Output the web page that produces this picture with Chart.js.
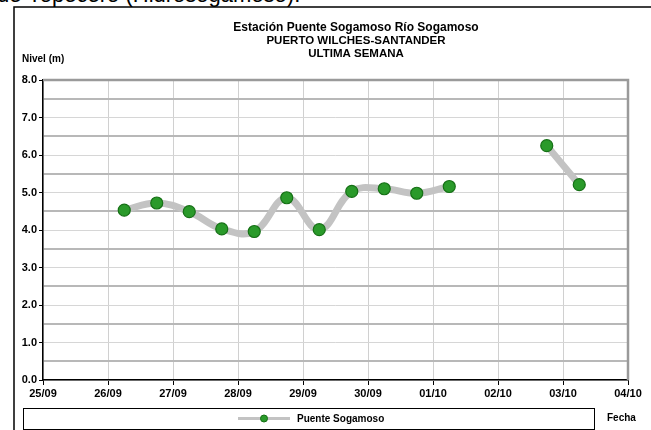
<!DOCTYPE html>
<html>
<head>
<meta charset="utf-8">
<script src="https://cdn.jsdelivr.net/npm/chart.js@4"></script>
<style>
  body { margin: 0; background: #fff; overflow: hidden; }
  #wrap { position: relative; width: 651px; height: 430px; }
  #top { position: absolute; left: -3px; top: -18px; font: 22px "Liberation Sans", Arial, sans-serif; color: #000; white-space: nowrap; }
  canvas { position: absolute; left: 0; top: 0; }
</style>
</head>
<body>
<div id="wrap">
  <div id="top">de Yopecero (Hidrosogamoso).</div>
  <canvas id="nivelChart" width="651" height="430"></canvas>
</div>
<script>
const dayLabels = ['25/09', '26/09', '27/09', '28/09', '29/09', '30/09', '01/10', '02/10', '03/10', '04/10'];
const sampleTimes = ['26/09 06', '26/09 18', '27/09 06', '27/09 18', '28/09 06', '28/09 18', '29/09 06',
    '29/09 18', '30/09 06', '30/09 18', '01/10 06', '01/10 18', '02/10 06', '02/10 18', '03/10 06'];
const levels = [4.53, 4.72, 4.49, 4.03, 3.96, 4.86, 4.01, 5.03, 5.10, 4.98, 5.16, null, null, 6.25, 5.21];
const titleLines = ['Estación Puente Sogamoso Río Sogamoso', 'PUERTO WILCHES-SANTANDER', 'ULTIMA SEMANA'];
const seriesName = 'Puente Sogamoso';

const FONT = '"Liberation Sans", Arial, sans-serif';

// day index + hour fraction
function toX(t) {
    const [d, h] = t.split(' ');
    return dayLabels.indexOf(d) + Number(h) / 24;
}

const points = sampleTimes.map((t, i) => ({ x: toX(t), y: levels[i] }));

const frame = {
    id: 'frame',
    beforeDatasetsDraw(chart) {
        const { ctx, chartArea: a } = chart;
        ctx.save();
        ctx.strokeStyle = '#9a9a9a';
        ctx.lineWidth = 2.5;
        ctx.beginPath();
        ctx.moveTo(a.left, a.top);
        ctx.lineTo(a.right, a.top);
        ctx.lineTo(a.right, a.bottom);
        ctx.stroke();
        ctx.restore();
    },
    afterDraw(chart) {
        const ctx = chart.ctx;
        ctx.save();
        // outer box
        ctx.strokeStyle = '#000';
        ctx.lineWidth = 1.5;
        ctx.beginPath();
        ctx.moveTo(14, 432);
        ctx.lineTo(14, 7);
        ctx.lineTo(655, 7);
        ctx.stroke();

        ctx.fillStyle = '#000';
        ctx.textAlign = 'center';
        ctx.textBaseline = 'alphabetic';
        titleLines.forEach((t, i) => {
            ctx.font = 'bold ' + (i === 0 ? 12 : 11.5) + 'px ' + FONT;
            ctx.fillText(t, 356, 31 + i * 13);
        });

        ctx.textAlign = 'left';
        ctx.font = 'bold 10px ' + FONT;
        ctx.fillText('Nivel (m)', 22, 62);
        ctx.fillText('Fecha', 607, 421);

        // legend
        ctx.lineWidth = 1;
        ctx.strokeStyle = '#000';
        ctx.strokeRect(23.5, 408.5, 571, 21);
        ctx.strokeStyle = '#c3c3c3';
        ctx.lineWidth = 3;
        ctx.beginPath();
        ctx.moveTo(238, 418.5);
        ctx.lineTo(290, 418.5);
        ctx.stroke();
        ctx.fillStyle = '#2a9a2a';
        ctx.strokeStyle = '#157015';
        ctx.lineWidth = 1;
        ctx.beginPath();
        ctx.arc(264, 418.5, 3.5, 0, Math.PI * 2);
        ctx.fill();
        ctx.stroke();
        ctx.fillStyle = '#000';
        ctx.fillText(seriesName, 297, 422);
        ctx.restore();
    }
};

new Chart(document.getElementById('nivelChart'), {
    type: 'line',
    data: {
        datasets: [{
            label: seriesName,
            data: points,
            borderColor: '#c3c3c3',
            borderWidth: 7,
            tension: 0.4,
            spanGaps: false,
            pointRadius: 6,
            pointBackgroundColor: '#2a9a2a',
            pointBorderColor: '#157015',
            pointBorderWidth: 1.2
        }]
    },
    options: {
        responsive: false,
        animation: false,
        layout: { padding: { top: 80, right: 23, bottom: 0, left: 0 } },
        plugins: {
            legend: { display: false },
            title: { display: false },
            tooltip: { enabled: false }
        },
        scales: {
            x: {
                type: 'linear',
                min: 0,
                max: dayLabels.length - 1,
                afterFit: s => { s.height = 50; },
                ticks: {
                    stepSize: 1,
                    padding: 2,
                    color: '#000',
                    font: { family: FONT, size: 11, weight: 'bold' },
                    maxRotation: 0,
                    autoSkip: false,
                    callback: v => dayLabels[v]
                },
                grid: { color: '#d0d0d0', lineWidth: 1, tickColor: '#000', tickLength: 5 },
                border: { color: '#000', width: 1.5 }
            },
            y: {
                min: 0,
                max: 8,
                afterFit: s => { s.width = 43; },
                ticks: {
                    stepSize: 0.5,
                    padding: 2,
                    color: '#000',
                    font: { family: FONT, size: 11, weight: 'bold' },
                    callback: v => (v % 1 === 0 ? v.toFixed(1) : '')
                },
                grid: {
                    color: c => (c.tick && c.tick.value % 1 !== 0 ? '#b8b8b8' : '#d6d6d6'),
                    lineWidth: c => (c.tick && c.tick.value % 1 !== 0 ? 2 : 1),
                    tickColor: c => (c.tick && c.tick.value % 1 === 0 ? '#000' : 'rgba(0,0,0,0)'),
                    tickLength: 4
                },
                border: { color: '#000', width: 1.5 }
            }
        }
    },
    plugins: [frame]
});
</script>
</body>
</html>
